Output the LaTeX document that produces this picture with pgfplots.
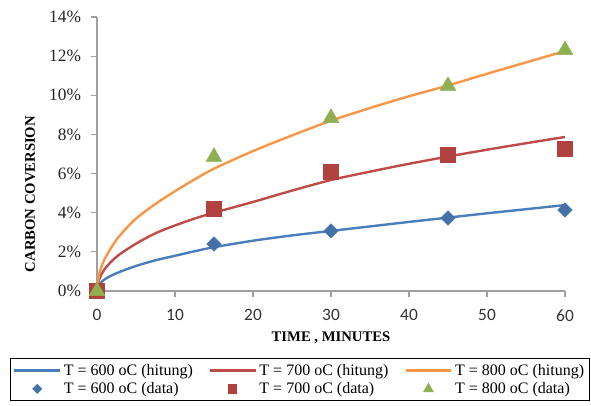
\documentclass[border=0pt]{standalone}
\usepackage{fontspec}
\setmainfont{Liberation Serif}
\newfontfamily\calibri{Carlito}
\usepackage{pgfplots}
\pgfplotsset{compat=1.18}

\definecolor{lblue}{HTML}{4A7EBB}
\definecolor{lred}{HTML}{BE4B48}
\definecolor{lorange}{HTML}{F79646}
\definecolor{mblue}{HTML}{4472A8}
\definecolor{mred}{HTML}{B0413E}
\definecolor{mgreen}{HTML}{8FB050}
\definecolor{axgray}{HTML}{A0A0A0}

\begin{document}
\begin{tikzpicture}
\begin{axis}[
    width=351pt, height=205.5pt,
    scale only axis,
    xmin=0, xmax=60, ymin=0, ymax=14,
    axis x line=bottom, axis y line=left,
    axis line style={-, axgray, line width=0.8pt},
    tick style={axgray, line width=0.8pt},
    tick align=outside,
    major tick length=4.5pt,
    xtick={0,10,...,60},
    xticklabels={0,10,20,30,40,50,60},
    ytick={0,2,...,14},
    yticklabels={0\%,2\%,4\%,6\%,8\%,10\%,12\%,14\%},
    x tick label style={font=\calibri\fontsize{13}{15}\selectfont, text=black!80, yshift=-6pt},
    y tick label style={font=\fontsize{13}{15}\selectfont, text=black!85, xshift=-4pt},
    xlabel={TIME , MINUTES},
    ylabel={CARBON COVERSION},
    every axis x label/.style={at={(axis description cs:0.5,-0.1715)}, anchor=center,
        font=\bfseries\fontsize{11}{13}\selectfont},
    every axis y label/.style={at={(axis description cs:-0.143,0.354)}, rotate=90, anchor=center,
        font=\bfseries\fontsize{11}{13}\selectfont},
    legend columns=3,
    legend cell align=left,
    legend style={at={(axis description cs:-0.1859,-0.2445)}, anchor=north west,
        draw=black, line width=0.9pt, inner sep=2pt,
        font=\fontsize{12}{14}\selectfont,
        /tikz/every odd column/.append style={column sep=0pt},
        /tikz/every even column/.append style={column sep=10pt}},
    legend image code/.code={\draw[#1] (0cm,0cm) -- (1.2cm,0cm);},
]
\addplot[lblue, line width=1.8pt, smooth] coordinates {
    (0,0) (0.25,0.28) (0.5,0.42) (1,0.6) (2,0.82) (3,0.99) (5,1.28) (7.5,1.57)
    (10,1.8) (12.5,2.03) (15,2.24) (20,2.57) (25,2.84) (30,3.07) (35,3.3)
    (40,3.53) (45,3.75) (50,3.97) (55,4.18) (60,4.39)
};
\addlegendentry{T = 600 oC (hitung)}
\addplot[lred, line width=1.8pt, smooth] coordinates {
    (0,0) (0.25,0.55) (0.5,0.8) (1,1.13) (2,1.57) (3,1.9) (5,2.42) (7.5,2.95)
    (10,3.35) (12.5,3.7) (15,4.0) (20,4.55) (25,5.13) (30,5.67) (35,6.1)
    (40,6.5) (45,6.87) (50,7.22) (55,7.55) (60,7.87)
};
\addlegendentry{T = 700 oC (hitung)}
\addplot[lorange, line width=1.8pt, smooth] coordinates {
    (0,0) (0.25,0.8) (0.5,1.17) (1,1.65) (2,2.33) (3,2.87) (5,3.7) (7.5,4.45)
    (10,5.1) (12.5,5.7) (15,6.25) (20,7.15) (25,7.95) (30,8.7) (35,9.35)
    (40,9.95) (45,10.5) (50,11.1) (55,11.68) (60,12.26)
};
\addlegendentry{T = 800 oC (hitung)}

\pgfplotsset{legend image code/.code={\draw[mark repeat=2,mark phase=2,#1]
    plot coordinates {(0cm,0cm)(0.6cm,0cm)(1.2cm,0cm)};}}
\addplot[only marks, mark=square*, mark size=3.8pt, mblue,
    mark options={draw=mblue, fill=mblue, rotate=45},
    legend image post style={mark size=2.2pt}] coordinates {
    (0,0) (15,2.40) (30,3.07) (45,3.73) (60,4.14)
};
\addlegendentry{T = 600 oC (data)}
\addplot[only marks, mark=square*, mark size=5.5pt, mred,
    mark options={draw=mred, fill=mred},
    legend image post style={mark size=3pt}] coordinates {
    (0,0) (15,4.19) (30,6.08) (45,6.95) (60,7.26)
};
\addlegendentry{T = 700 oC (data)}
\addplot[only marks, mark=triangle*, mark size=6.8pt, mgreen,
    mark options={draw=mgreen, fill=mgreen},
    legend image post style={mark size=3.8pt}] coordinates {
    (0,0) (15,6.85) (30,8.84) (45,10.48) (60,12.31)
};
\addlegendentry{T = 800 oC (data)}
\end{axis}
\pgfresetboundingbox
\path[use as bounding box] (-72.75pt,-85.5pt) rectangle (370.5pt,218.25pt);
\end{tikzpicture}
\end{document}
